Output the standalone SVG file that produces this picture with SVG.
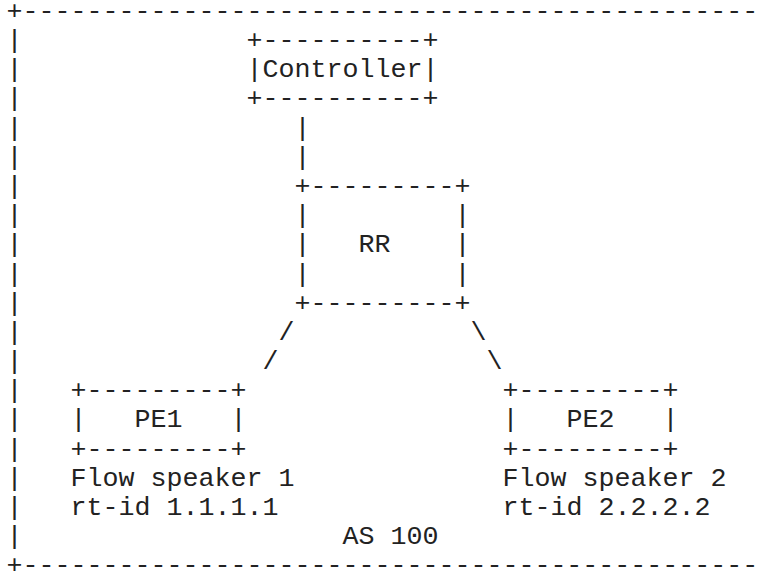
<svg xmlns="http://www.w3.org/2000/svg" width="763" height="571" viewBox="0 0 763 571" xml:space="preserve">
<style>
text { font-family: "Liberation Mono", "Courier New", monospace; font-size: 26.67px; fill: #222; white-space: pre; }
</style>
<rect x="0" y="0" width="763" height="571" fill="#ffffff"/>
<g id="border">
<text x="6.5" y="18.9">+----------------------------------------------</text>
<text x="6.5" y="573.3">+----------------------------------------------</text>
<text x="6.5"><tspan x="6.5" y="48.08">|</tspan><tspan x="6.5" y="77.26">|</tspan><tspan x="6.5" y="106.44">|</tspan><tspan x="6.5" y="135.62">|</tspan><tspan x="6.5" y="164.8">|</tspan><tspan x="6.5" y="193.98">|</tspan><tspan x="6.5" y="223.16">|</tspan><tspan x="6.5" y="252.34">|</tspan><tspan x="6.5" y="281.52">|</tspan><tspan x="6.5" y="310.7">|</tspan><tspan x="6.5" y="339.88">|</tspan><tspan x="6.5" y="369.06">|</tspan><tspan x="6.5" y="398.24">|</tspan><tspan x="6.5" y="427.42">|</tspan><tspan x="6.5" y="456.6">|</tspan><tspan x="6.5" y="485.78">|</tspan><tspan x="6.5" y="514.96">|</tspan><tspan x="6.5" y="544.14">|</tspan></text>
</g>
<g id="controller">
<text x="246.5" y="48.08">+----------+</text>
<text x="246.5" y="77.26">|Controller|</text>
<text x="246.5" y="106.44">+----------+</text>
</g>
<g id="rr">
<text x="294.5" y="193.98">+---------+</text>
<text x="294.5" y="223.16">|         |</text>
<text x="294.5" y="252.34">|   RR    |</text>
<text x="294.5" y="281.52">|         |</text>
<text x="294.5" y="310.7">+---------+</text>
</g>
<g id="pe1">
<text x="70.5" y="398.24">+---------+</text>
<text x="70.5" y="427.42">|   PE1   |</text>
<text x="70.5" y="456.6">+---------+</text>
<text x="70.5" y="485.78">Flow speaker 1</text>
<text x="70.5" y="514.96">rt-id 1.1.1.1</text>
</g>
<g id="pe2">
<text x="502.5" y="398.24">+---------+</text>
<text x="502.5" y="427.42">|   PE2   |</text>
<text x="502.5" y="456.6">+---------+</text>
<text x="502.5" y="485.78">Flow speaker 2</text>
<text x="502.5" y="514.96">rt-id 2.2.2.2</text>
</g>
<g id="connectors">
<text x="294.5" y="135.62">|</text>
<text x="294.5" y="164.8">|</text>
<text x="278.5" y="339.88">/</text>
<text x="262.5" y="369.06">/</text>
<text x="470.5" y="339.88">\</text>
<text x="486.5" y="369.06">\</text>
</g>
<g id="as-label">
<text x="342.5" y="544.14">AS 100</text>
</g>
</svg>
